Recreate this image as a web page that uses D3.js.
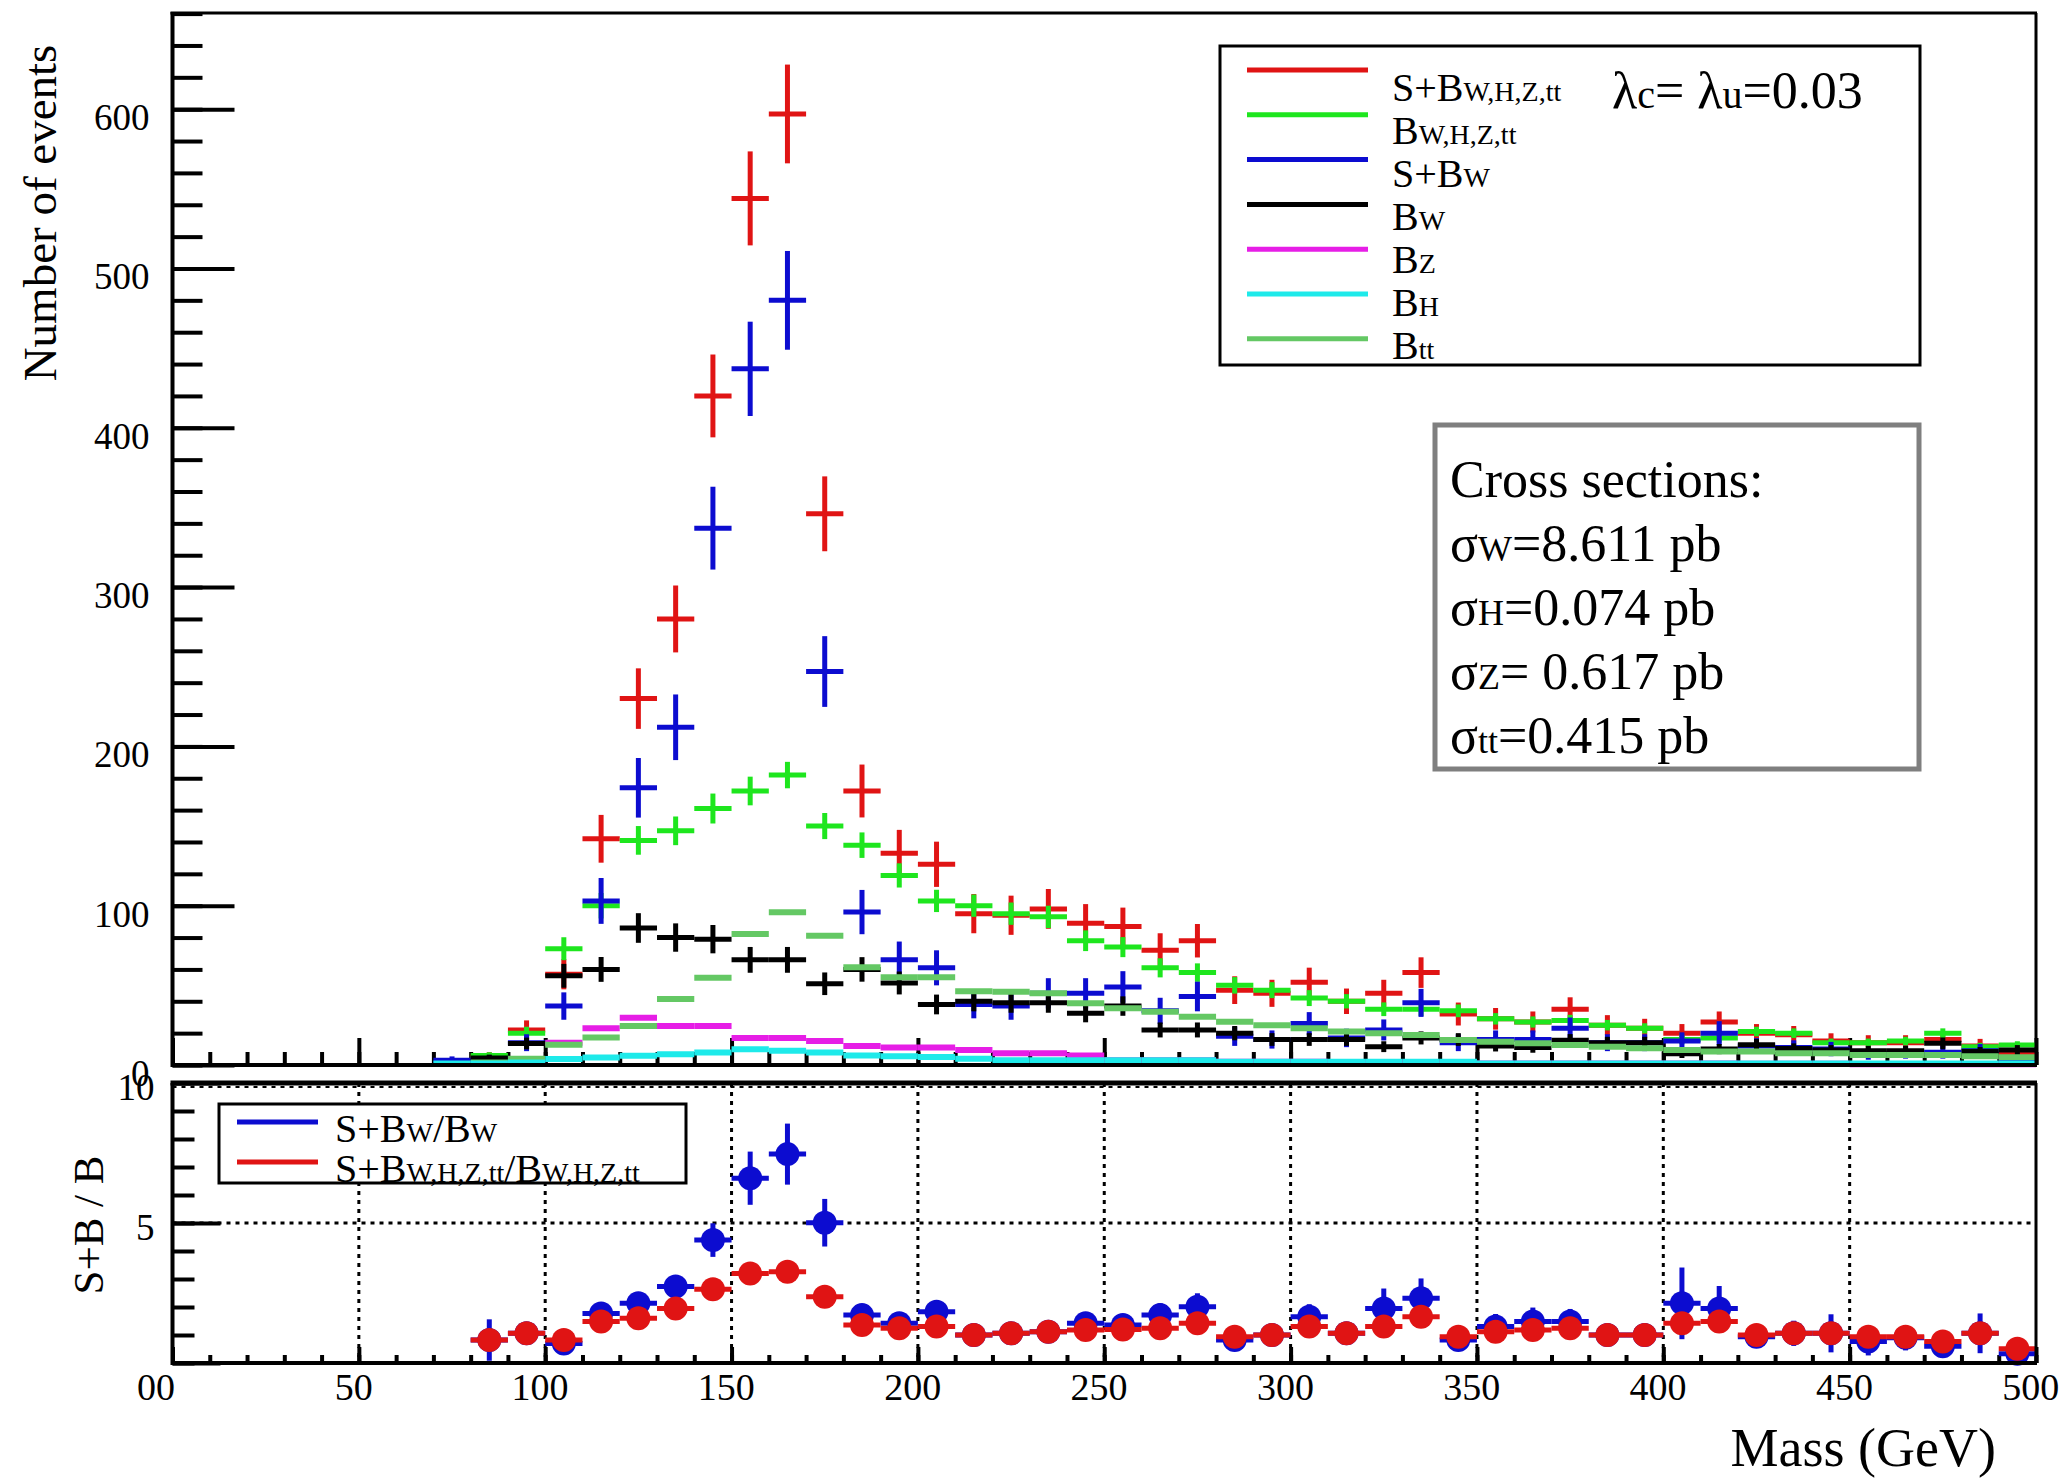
<!DOCTYPE html>
<html>
<head>
<meta charset="utf-8">
<script src="https://cdn.jsdelivr.net/npm/d3@7"></script>
<style>
  body { margin: 0; background: #fff; }
  svg text { font-family: 'Liberation Serif', 'Times New Roman', serif; fill: #000; white-space: pre; }
</style>
</head>
<body>
<div id="chart"></div>
<script>

// bin centres in GeV (10 GeV bins)
const massBins = [75, 85, 95, 105, 115, 125, 135, 145, 155, 165, 175, 185, 195, 205, 215, 225, 235, 245, 255, 265,
    275, 285, 295, 305, 315, 325, 335, 345, 355, 365, 375, 385, 395, 405, 415, 425, 435, 445, 455, 465, 475, 485, 495];

// S+B W,H,Z,tt
const sbAll = [null, 5, 22, 57, 142, 230, 280, 420, 544, 597, 346, 172, 133, 126, 95, 94, 98, 89, 87, 72,
    78, 47, 45, 52, 40, 45, 58, 32, 29, 27, 35, 25, 23, 20, 27, 20, 19, 15, 14, 14, 16, 12, 7];
const sbAllErr = [0, 3, 6, 9.5, 15, 19, 21, 26, 29.5, 31, 23.5, 16.6, 14.6, 14.2, 12.3, 12.3, 12.5, 12, 11.8, 10.7,
    10.5, 8.7, 8.5, 9.1, 8, 8.5, 9.6, 7.2, 6.8, 6.6, 7.5, 6.3, 6, 5.7, 6.6, 5.7, 5.5, 4.9, 4.7, 4.7, 5, 4.4, 3.4];

// B W,H,Z,tt
const bAll = [null, 6, 20, 73, 100, 141, 147, 161, 172, 182, 150, 138, 119, 103, 100, 95, 93, 78, 74, 61,
    58, 50, 47, 42, 40, 35, 35, 34, 29, 27, 28, 25, 23, 16, 17, 21, 20, 14, 14, 15, 20, 11.5, 12.5];
const bAllErr = [0, 2, 4, 7.2, 8, 9, 9, 9.4, 9, 8.3, 8.2, 8, 7.6, 7, 7, 7, 7, 6.5, 6.3, 6,
    5.8, 5.2, 5, 5, 4.5, 4.3, 4.3, 4, 3.6, 3.5, 3.5, 3.3, 3.2, 3, 3, 3, 3, 2.6, 2.6, 2.7, 3, 2.4, 2.4];

// S+B W
const sbW = [3, 3.6, 14, 37, 103, 174, 212, 337, 437, 480, 247, 96, 66, 61, 38, 37, 45, 45, 49, 34,
    43, 18, 16, 26, 17, 22, 39, 14, 16, 16, 23, 14, 14, 15, 20, 12, 11, 10, 7, 8, 8, 9, 3];
const sbWErr = [2.4, 2.7, 5.3, 8.6, 14.4, 18.7, 20.6, 26, 29.6, 31, 22.2, 13.9, 11.5, 11, 8.7, 8.6, 9.5, 9.5, 9.9, 8.2,
    9.3, 6, 5.7, 7.2, 5.8, 6.6, 8.8, 5.3, 5.7, 5.7, 6.8, 5.3, 5.3, 5.5, 7.5, 4.9, 4.5, 4.5, 3.7, 4, 4, 4.2, 2.8];

// B W
const bW = [null, 4.4, 13.5, 56, 60, 86, 80, 79, 66, 66, 51, 60, 51.5, 38, 40, 39, 39, 32.5, 37, 22,
    22, 20, 16, 16, 16, 11.5, 17, 16, 12, 11, 15.5, 14, 14, 7, 10, 12.7, 10.4, 9.4, 9, 9, 13.6, 8.4, 9.4];
const bWErr = [0, 2.1, 3.7, 7.5, 7.8, 9.3, 8.9, 8.9, 8.1, 8.1, 7.1, 7.7, 7.2, 6.2, 6.3, 6.2, 6.2, 5.7, 6.1, 4.7,
    4.7, 4.5, 4, 4, 4, 3.4, 4.1, 4, 3.5, 3.3, 3.9, 3.7, 3.7, 2.6, 3.2, 3.6, 3.2, 3.1, 3, 3, 3.7, 2.9, 3.1];

// B Z, B H, B tt (drawn as bars only)
const bZ = [0, 0, 1, 14, 23, 29.7, 24.5, 24.5, 17, 17, 15, 12, 11, 11, 9.4, 7.3, 7.3, 6, 3, 3,
    3, 2, 2, 2, 1.5, 1.5, 1.5, 1, 1, 1, 1, 1, 1, 1, 1, 0.8, 0.8, 0.8, 0.5, 0.5, 0.5, 0.5, 0.5];
const bH = [1, 1, 1.5, 3.8, 4.7, 5.8, 6.8, 7.8, 9.9, 8.9, 7.8, 6, 5.5, 5, 4, 3, 3, 3, 3, 3,
    3, 2, 2, 2, 2, 2, 2, 2, 1, 1, 1, 1, 1, 1, 1, 1, 1, 1, 1, 1, 1, 1, 1];
const bTT = [0, 1.5, 4, 12.7, 17.2, 24.5, 41.5, 54.7, 82.2, 95.9, 81.1, 61.3, 55.1, 55.1, 46.3, 46, 45, 38.7, 35.6, 33.5,
    30.3, 27.2, 25, 23, 21, 19.9, 18.8, 15.7, 14.6, 13.6, 12.6, 11.5, 10.5, 9.4, 8.4, 8.4, 7.3, 7.3, 6.3, 6.3, 6.3, 5.5, 4.8];

// ratio panel
const ratioW = [null, 0.82, 1.06, 0.70, 1.77, 2.13, 2.73, 4.39, 6.6, 7.46, 5.01, 1.71, 1.42, 1.83, 1.0, 1.06, 1.12, 1.42, 1.36, 1.71,
    2.01, 0.82, 1.0, 1.65, 1.06, 1.95, 2.31, 0.82, 1.3, 1.48, 1.48, 1.0, 1.0, 2.13, 1.95, 0.94, 1.06, 1.06, 0.77, 0.9, 0.6, 1.06, 0.33];
const ratioWErr = [0, 0.74, 0.4, 0.3, 0.3, 0.3, 0.35, 0.6, 0.95, 1.09, 0.85, 0.35, 0.3, 0.35, 0.25, 0.25, 0.3, 0.35, 0.35, 0.42,
    0.48, 0.3, 0.3, 0.45, 0.35, 0.71, 0.71, 0.3, 0.45, 0.5, 0.45, 0.35, 0.35, 1.28, 0.8, 0.35, 0.45, 0.68, 0.5, 0.45, 0.35, 0.71, 0.3];
const ratioAll = [null, 0.82, 1.06, 0.82, 1.48, 1.6, 1.95, 2.63, 3.2, 3.26, 2.37, 1.36, 1.24, 1.3, 1.0, 1.06, 1.12, 1.18, 1.2, 1.24,
    1.42, 0.94, 1.0, 1.3, 1.06, 1.3, 1.65, 0.94, 1.12, 1.18, 1.24, 1.0, 1.0, 1.42, 1.48, 1.0, 1.06, 1.06, 0.94, 0.94, 0.77, 1.06, 0.51];
const ratioAllErr = [0, 0.3, 0.25, 0.2, 0.15, 0.15, 0.15, 0.2, 0.2, 0.2, 0.2, 0.15, 0.15, 0.15, 0.15, 0.15, 0.15, 0.15, 0.15, 0.15,
    0.2, 0.15, 0.15, 0.2, 0.15, 0.2, 0.25, 0.15, 0.2, 0.2, 0.2, 0.2, 0.2, 0.3, 0.3, 0.2, 0.2, 0.25, 0.25, 0.25, 0.25, 0.3, 0.25];

// axis ticks / labels
const yTopTicks = [0, 100, 200, 300, 400, 500, 600];
const yBotTicks = [0, 5, 10];
const yBotLabels = ['', '5', '10'];
const xTicks = [0, 50, 100, 150, 200, 250, 300, 350, 400, 450, 500];
const xTickLabels = ['00', '50', '100', '150', '200', '250', '300', '350', '400', '450', '500'];

// legends
const legendParts = [['S+B', 'W,H,Z,tt'], ['B', 'W,H,Z,tt'], ['S+B', 'W'], ['B', 'W'], ['B', 'Z'], ['B', 'H'], ['B', 'tt']];
const ratioLegendParts = [['S+B', 'W', '/B', 'W'], ['S+B', 'W,H,Z,tt', '/B', 'W,H,Z,tt']];
const xsecLines = [['σ', 'W', '=8.611 pb'], ['σ', 'H', '=0.074 pb'], ['σ', 'Z', '= 0.617 pb'], ['σ', 'tt', '=0.415 pb']];

const colors = {
    red: '#e01414', green: '#1ee61e', blue: '#0c0cd0', black: '#000000',
    magenta: '#e61ee6', cyan: '#1eeaea', ttbar: '#64c864'
};
const legendColors = [colors.red, colors.green, colors.blue, colors.black, colors.magenta, colors.cyan, colors.ttbar];

const W = 2069, H = 1478;
const binHalf = 5;

const x = d3.scaleLinear().domain([0, 500]).range([172.5, 2036]);
const yTop = d3.scaleLinear().domain([0, 660]).range([1065, 13.6]);
const yBot = d3.scaleLinear().domain([0, 10]).range([1363, 1083]);

const svg = d3.select('#chart').append('svg')
    .attr('width', W)
    .attr('height', H);

svg.append('rect').attr('width', W).attr('height', H).attr('fill', '#fff');

//---------------- upper panel ----------------

const upper = svg.append('g');

// minor y ticks
upper.append('g')
    .attr('transform', 'translate(' + x(0) + ',0)')
    .call(d3.axisLeft(yTop).tickValues(d3.range(0, 661, 20)).tickSize(-30).tickFormat(''))
    .call(g => g.select('.domain').remove());

// major y ticks + labels
upper.append('g')
    .attr('class', 'ytop')
    .attr('transform', 'translate(' + x(0) + ',0)')
    .call(d3.axisLeft(yTop).tickValues(yTopTicks).tickSize(-62).tickPadding(23).tickFormat(d3.format('d')))
    .call(g => g.select('.domain').remove());

// x ticks on the bottom of the upper panel
upper.append('g')
    .attr('transform', 'translate(0,' + yTop(0) + ')')
    .call(d3.axisBottom(x).tickValues(d3.range(0, 501, 10)).tickSize(-13).tickFormat(''))
    .call(g => g.select('.domain').remove());
upper.append('g')
    .attr('transform', 'translate(0,' + yTop(0) + ')')
    .call(d3.axisBottom(x).tickValues(xTicks).tickSize(-27).tickFormat(''))
    .call(g => g.select('.domain').remove());

function points(values, errors) {
    return massBins.map((m, i) => ({ m: m, v: values[i], e: errors ? errors[i] : 0 }))
        .filter(d => d.v != null && d.v > 0);
}

function drawHist(values, errors, color, width) {
    const pts = points(values, errors);
    const g = upper.append('g')
        .attr('stroke', color)
        .attr('stroke-width', width);

    g.selectAll('.h').data(pts).enter().append('line')
        .attr('x1', d => x(d.m - binHalf))
        .attr('x2', d => x(d.m + binHalf))
        .attr('y1', d => yTop(d.v))
        .attr('y2', d => yTop(d.v));

    if (errors) {
        g.selectAll('.v').data(pts).enter().append('line')
            .attr('x1', d => x(d.m))
            .attr('x2', d => x(d.m))
            .attr('y1', d => yTop(Math.max(0, d.v - d.e)))
            .attr('y2', d => yTop(d.v + d.e));
    }
}

drawHist(sbAll, sbAllErr, colors.red, 5);
drawHist(bAll, bAllErr, colors.green, 5);
drawHist(sbW, sbWErr, colors.blue, 5);
drawHist(bW, bWErr, colors.black, 5);
drawHist(bZ, null, colors.magenta, 6);
drawHist(bTT, null, colors.ttbar, 6);
drawHist(bH, null, colors.cyan, 6);

// frame
upper.append('line').attr('x1', x(0) - 2).attr('x2', x(500) + 1).attr('y1', 13).attr('y2', 13)
    .attr('stroke', '#000').attr('stroke-width', 3);
upper.append('line').attr('x1', x(500)).attr('x2', x(500)).attr('y1', 13).attr('y2', yTop(0))
    .attr('stroke', '#000').attr('stroke-width', 3);
upper.append('line').attr('x1', x(0)).attr('x2', x(0)).attr('y1', 12).attr('y2', yTop(0) + 2)
    .attr('stroke', '#000').attr('stroke-width', 4);
upper.append('line').attr('x1', x(0)).attr('x2', x(500) + 1).attr('y1', yTop(0)).attr('y2', yTop(0))
    .attr('stroke', '#000').attr('stroke-width', 4);

// legend
const leg = upper.append('g');
leg.append('rect')
    .attr('x', 1220).attr('y', 46).attr('width', 700).attr('height', 319)
    .attr('fill', '#fff').attr('stroke', '#000').attr('stroke-width', 3);

legendParts.forEach((p, i) => {
    leg.append('line')
        .attr('x1', 1247).attr('x2', 1368)
        .attr('y1', 70 + i * 44.8).attr('y2', 70 + i * 44.8)
        .attr('stroke', legendColors[i]).attr('stroke-width', 5);
    const t = leg.append('text')
        .attr('x', 1392).attr('y', 101 + i * 43)
        .attr('font-size', 40);
    t.append('tspan').text(p[0]);
    t.append('tspan').attr('font-size', 28).text(p[1]);
});

const lam = leg.append('text').attr('x', 1612).attr('y', 108).attr('font-size', 52);
lam.append('tspan').text('λ');
lam.append('tspan').attr('font-size', 40).text('c');
lam.append('tspan').text('= λ');
lam.append('tspan').attr('font-size', 40).text('u');
lam.append('tspan').text('=0.03');

// cross section box
const xs = upper.append('g');
xs.append('rect')
    .attr('x', 1435).attr('y', 425).attr('width', 484).attr('height', 344)
    .attr('fill', '#fff').attr('stroke', '#7f7f7f').attr('stroke-width', 5);
xs.append('text').attr('x', 1450).attr('y', 497).attr('font-size', 52).text('Cross sections:');
xsecLines.forEach((p, i) => {
    const t = xs.append('text').attr('x', 1450).attr('y', 561 + i * 64).attr('font-size', 52);
    t.append('tspan').text(p[0]);
    t.append('tspan').attr('font-size', 36).text(p[1]);
    t.append('tspan').text(p[2]);
});

// y title
upper.append('text')
    .attr('transform', 'translate(56,213) rotate(-90)')
    .attr('text-anchor', 'middle')
    .attr('font-size', 47)
    .text('Number of events');

//---------------- ratio panel ----------------

const lower = svg.append('g');

// grid
lower.append('g').selectAll('line').data(xTicks.slice(1, -1)).enter().append('line')
    .attr('x1', d => x(d)).attr('x2', d => x(d))
    .attr('y1', yBot(10)).attr('y2', yBot(0))
    .attr('stroke', '#000').attr('stroke-width', 3).attr('stroke-dasharray', '4,5');
lower.append('line')
    .attr('x1', x(0)).attr('x2', x(500)).attr('y1', yBot(5)).attr('y2', yBot(5))
    .attr('stroke', '#000').attr('stroke-width', 3).attr('stroke-dasharray', '4,5');
lower.append('line')
    .attr('x1', x(0)).attr('x2', x(500)).attr('y1', yBot(10) + 4).attr('y2', yBot(10) + 4)
    .attr('stroke', '#000').attr('stroke-width', 2).attr('stroke-dasharray', '4,5');

// ticks
lower.append('g')
    .attr('transform', 'translate(' + x(0) + ',0)')
    .call(d3.axisLeft(yBot).tickValues(d3.range(0, 11, 1)).tickSize(-22).tickFormat(''))
    .call(g => g.select('.domain').remove());
lower.append('g')
    .attr('class', 'ybot')
    .attr('transform', 'translate(' + x(0) + ',0)')
    .call(d3.axisLeft(yBot).tickValues(yBotTicks).tickSize(-48).tickPadding(18)
        .tickFormat((d, i) => yBotLabels[i]))
    .call(g => g.select('.domain').remove());
lower.append('g')
    .attr('transform', 'translate(0,' + yBot(0) + ')')
    .call(d3.axisBottom(x).tickValues(d3.range(0, 501, 10)).tickSize(-8).tickFormat(''))
    .call(g => g.select('.domain').remove());
lower.append('g')
    .attr('class', 'xbot')
    .attr('transform', 'translate(0,' + yBot(0) + ')')
    .call(d3.axisBottom(x).tickValues(xTicks).tickSize(-16).tickPadding(10)
        .tickFormat((d, i) => xTickLabels[i]))
    .call(g => g.select('.domain').remove());

function drawRatio(values, errors, color) {
    const pts = points(values, errors);
    const g = lower.append('g');
    g.selectAll('.h').data(pts).enter().append('line')
        .attr('x1', d => x(d.m - binHalf))
        .attr('x2', d => x(d.m + binHalf))
        .attr('y1', d => yBot(d.v))
        .attr('y2', d => yBot(d.v))
        .attr('stroke', color).attr('stroke-width', 5);
    g.selectAll('.v').data(pts).enter().append('line')
        .attr('x1', d => x(d.m))
        .attr('x2', d => x(d.m))
        .attr('y1', d => yBot(Math.max(0, d.v - d.e)))
        .attr('y2', d => yBot(d.v + d.e))
        .attr('stroke', color).attr('stroke-width', 5);
    g.selectAll('circle').data(pts).enter().append('circle')
        .attr('cx', d => x(d.m))
        .attr('cy', d => yBot(d.v))
        .attr('r', 12)
        .attr('fill', color);
}

drawRatio(ratioW, ratioWErr, colors.blue);
drawRatio(ratioAll, ratioAllErr, colors.red);

// frame
lower.append('line').attr('x1', x(0) - 2).attr('x2', x(500) + 1).attr('y1', yBot(10)).attr('y2', yBot(10))
    .attr('stroke', '#000').attr('stroke-width', 5);
lower.append('line').attr('x1', x(500)).attr('x2', x(500)).attr('y1', yBot(10)).attr('y2', yBot(0))
    .attr('stroke', '#000').attr('stroke-width', 3);
lower.append('line').attr('x1', x(0)).attr('x2', x(0)).attr('y1', yBot(10)).attr('y2', yBot(0) + 2)
    .attr('stroke', '#000').attr('stroke-width', 4);
lower.append('line').attr('x1', x(0)).attr('x2', x(500) + 1).attr('y1', yBot(0)).attr('y2', yBot(0))
    .attr('stroke', '#000').attr('stroke-width', 4);

// ratio legend
const rleg = lower.append('g');
rleg.append('rect')
    .attr('x', 219).attr('y', 1104).attr('width', 467).attr('height', 79)
    .attr('fill', '#fff').attr('stroke', '#000').attr('stroke-width', 3);
ratioLegendParts.forEach((p, i) => {
    const c = i === 0 ? colors.blue : colors.red;
    rleg.append('line')
        .attr('x1', 237).attr('x2', 318)
        .attr('y1', 1122 + i * 40).attr('y2', 1122 + i * 40)
        .attr('stroke', c).attr('stroke-width', 5);
    const t = rleg.append('text').attr('x', 335).attr('y', 1142 + i * 40).attr('font-size', 40);
    p.forEach((s, j) => {
        t.append('tspan').attr('font-size', j % 2 ? 28 : 40).text(s);
    });
});

lower.append('text')
    .attr('transform', 'translate(103,1225) rotate(-90)')
    .attr('text-anchor', 'middle')
    .attr('font-size', 43)
    .text('S+B / B');

lower.append('text')
    .attr('x', 1996).attr('y', 1466)
    .attr('text-anchor', 'end')
    .attr('font-size', 54)
    .text('Mass (GeV)');

// axis styling
svg.selectAll('.tick line').attr('stroke', '#000').attr('stroke-width', 4);
svg.selectAll('.ytop text, .ybot text')
    .attr('font-size', 37)
    .attr('font-family', "'Liberation Serif', 'Times New Roman', serif")
    .attr('dy', '0.55em');
svg.selectAll('.ybot text').attr('dy', '0.45em');
svg.selectAll('.xbot text')
    .attr('font-size', 38)
    .attr('font-family', "'Liberation Serif', 'Times New Roman', serif")
    .attr('dx', '-0.15em');
svg.selectAll('.xbot .tick').filter(d => d === 0).select('text').attr('dx', '-0.45em');

</script>
</body>
</html>
